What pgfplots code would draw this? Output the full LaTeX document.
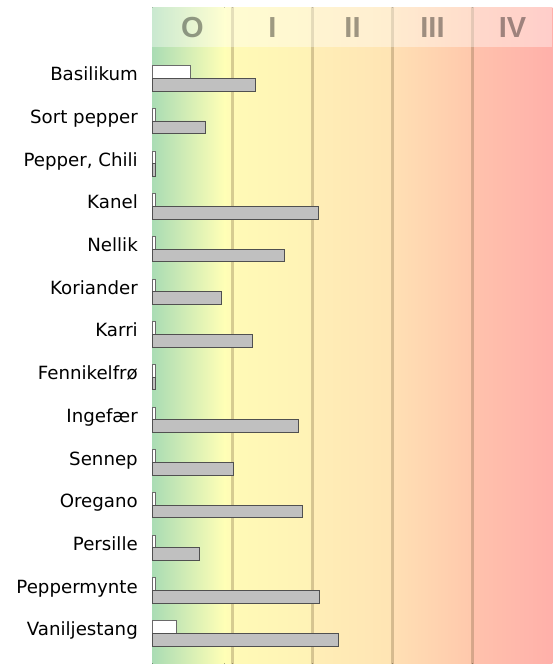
\documentclass[border=0pt]{standalone}
\usepackage{fontspec}
\setmainfont{DejaVu Sans}
\newfontfamily\hdrfont{Liberation Sans}
\usepackage{pgfplots}
\pgfplotsset{compat=1.18}

\definecolor{zgreen}{RGB}{170,220,180}
\definecolor{zyellow}{RGB}{255,255,182}
\definecolor{zone1a}{RGB}{255,250,182}
\definecolor{zone1b}{RGB}{255,242,182}
\definecolor{zone2a}{RGB}{255,238,182}
\definecolor{zone2b}{RGB}{255,228,180}
\definecolor{zone3a}{RGB}{255,224,180}
\definecolor{zone3b}{RGB}{255,200,172}
\definecolor{zone4a}{RGB}{255,194,172}
\definecolor{zone4b}{RGB}{255,176,170}
\definecolor{divline}{RGB}{120,100,60}
\definecolor{barfill}{RGB}{192,192,192}
\definecolor{baredge}{RGB}{80,80,80}

\begin{document}
\begin{tikzpicture}
\path[use as bounding box] (-152.5pt,0pt) rectangle (404.5pt,664pt);
\begin{axis}[
    scale only axis,
    width=400pt, height=657pt,
    xmin=0, xmax=5,
    ymin=-1.67, ymax=13.72,
    y dir=reverse,
    axis line style={draw=none},
    xtick=\empty,
    ytick={0,...,13},
    yticklabels={Basilikum, Sort pepper, {Pepper, Chili}, Kanel, Nellik,
        Koriander, Karri, Fennikelfrø, Ingefær, Sennep, Oregano, Persille,
        Peppermynte, Vaniljestang},
    major tick length=0pt,
    yticklabel style={font=\fontsize{18.2}{20}\selectfont, anchor=base east,
        inner sep=0pt, xshift=-14.5pt, yshift=-2.5pt},
    xbar, bar width=0.297,
    clip=false,
]
% background zones
\fill[left color=zgreen, right color=zyellow, draw=none]
    (axis cs:0,-1.67) rectangle (axis cs:0.9,13.72);
\fill[left color=zyellow, right color=zone1a, draw=none]
    (axis cs:0.9,-1.67) rectangle (axis cs:1,13.72);
\fill[left color=zone1a, right color=zone1b, draw=none]
    (axis cs:1,-1.67) rectangle (axis cs:2,13.72);
\fill[left color=zone2a, right color=zone2b, draw=none]
    (axis cs:2,-1.67) rectangle (axis cs:3,13.72);
\fill[left color=zone3a, right color=zone3b, draw=none]
    (axis cs:3,-1.67) rectangle (axis cs:4,13.72);
\fill[left color=zone4a, right color=zone4b, draw=none]
    (axis cs:4,-1.67) rectangle (axis cs:5,13.72);
% zone dividers
\foreach \d in {1,2,3,4} {
    \edef\temp{\noexpand\draw[divline, opacity=0.3, line width=3pt]
        (axis cs:\d,-1.67) -- (axis cs:\d,13.72);}
    \temp
}
% header band
\fill[white, opacity=0.38] (axis cs:0,-1.67) rectangle (axis cs:5,-0.733);
\foreach \lab/\pos in {O/0.5, I/1.5, II/2.5, III/3.5, IV/4.5} {
    \edef\temp{\noexpand\node[text=black, text opacity=0.38,
        font=\noexpand\hdrfont\noexpand\bfseries\noexpand\fontsize{29}{30}\noexpand\selectfont]
        at (axis cs:\pos,-1.19) {\lab};}
    \temp
}
% white bars
\addplot[fill=white, draw=baredge!85, line width=0.9pt, bar shift=-0.1485]
    coordinates {
        (0.47,0) (0.035,1) (0.035,2) (0.035,3) (0.035,4) (0.035,5) (0.035,6)
        (0.035,7) (0.035,8) (0.035,9) (0.035,10) (0.035,11) (0.035,12) (0.30,13)
    };
% gray bars
\addplot[fill=barfill, draw=baredge, line width=0.9pt, bar shift=0.1485]
    coordinates {
        (1.29,0) (0.665,1) (0.035,2) (2.07,3) (1.65,4) (0.865,5) (1.25,6)
        (0.035,7) (1.82,8) (1.01,9) (1.88,10) (0.59,11) (2.09,12) (2.32,13)
    };
\end{axis}
\end{tikzpicture}
\end{document}
